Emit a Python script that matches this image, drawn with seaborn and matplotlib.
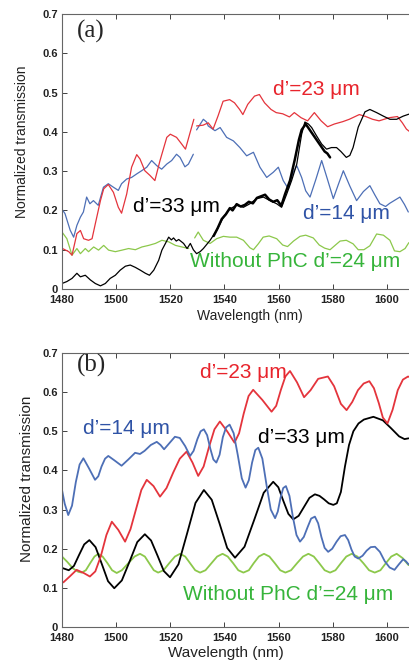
### TRANSMISSION SPECTRA - (a) measured, (b) simulated ###

import numpy as np
import matplotlib
matplotlib.use("Agg")
import matplotlib.pyplot as plt
import seaborn as sns

# ---------------- data ----------------

x_ticks = [1480, 1500, 1520, 1540, 1560, 1580, 1600]
x_tick_labels = ['1480', '1500', '1520', '1540', '1560', '1580', '1600']
y_ticks = [0, 0.1, 0.2, 0.3, 0.4, 0.5, 0.6, 0.7]
y_tick_labels = ['0', '0.1', '0.2', '0.3', '0.4', '0.5', '0.6', '0.7']

# (a) measured, d'=23 um (red), two pieces
a_red1_x = [1480.2, 1482.5, 1483.7, 1485.5, 1486.8, 1488.0, 1489.8, 1491.1, 1492.3, 1494.2,
            1495.4, 1497.1, 1499.0, 1500.8, 1502.0, 1503.9, 1505.7, 1507.6, 1508.8, 1510.6,
            1512.5, 1514.3, 1516.2, 1518.7, 1520.0, 1522.3, 1524.2, 1525.6, 1527.3, 1528.7]
a_red1_y = [0.103, 0.095, 0.086, 0.141, 0.149, 0.128, 0.124, 0.128, 0.166, 0.225,
            0.255, 0.266, 0.246, 0.208, 0.193, 0.242, 0.310, 0.342, 0.331, 0.301,
            0.289, 0.276, 0.327, 0.386, 0.394, 0.386, 0.369, 0.356, 0.398, 0.432]
a_red2_x = [1529.7, 1532.1, 1534.0, 1535.8, 1537.6, 1539.5, 1541.9, 1543.7, 1545.6, 1546.8,
            1548.6, 1551.1, 1552.9, 1554.8, 1557.2, 1559.1, 1561.5, 1564.0, 1565.8, 1568.3,
            1570.7, 1573.2, 1575.7, 1578.1, 1580.6, 1583.7, 1586.1, 1589.8, 1592.2, 1594.7,
            1597.1, 1600.8, 1603.9, 1605.7, 1607.2, 1608.5]
a_red2_y = [0.415, 0.417, 0.423, 0.407, 0.440, 0.478, 0.482, 0.474, 0.457, 0.444,
            0.470, 0.491, 0.495, 0.474, 0.457, 0.449, 0.446, 0.438, 0.449, 0.436,
            0.428, 0.449, 0.428, 0.413, 0.420, 0.426, 0.432, 0.444, 0.439, 0.432,
            0.428, 0.436, 0.439, 0.423, 0.407, 0.400]

# (a) measured, d'=14 um (blue), two pieces
a_blue1_x = [1479.9, 1481.1, 1483.0, 1484.3, 1485.5, 1486.8, 1487.9, 1489.1, 1490.3, 1491.6,
             1493.4, 1495.3, 1497.1, 1499.0, 1500.8, 1502.0, 1503.9, 1505.7, 1507.6, 1509.4,
             1511.3, 1513.1, 1515.0, 1516.8, 1518.7, 1520.5, 1522.3, 1523.6, 1525.4, 1526.7,
             1528.5]
a_blue1_y = [0.204, 0.192, 0.150, 0.132, 0.162, 0.183, 0.196, 0.234, 0.217, 0.225,
             0.213, 0.259, 0.268, 0.259, 0.251, 0.268, 0.280, 0.284, 0.293, 0.301,
             0.310, 0.327, 0.314, 0.305, 0.318, 0.327, 0.343, 0.335, 0.311, 0.318,
             0.343]
a_blue2_x = [1529.7, 1531.0, 1532.2, 1533.4, 1534.0, 1536.5, 1538.4, 1540.8, 1543.3, 1545.7,
             1548.2, 1550.7, 1553.1, 1555.6, 1558.0, 1559.9, 1561.7, 1563.6, 1565.4, 1566.7,
             1568.5, 1570.0, 1571.6, 1573.8, 1575.9, 1578.0, 1580.2, 1582.0, 1583.9, 1586.3,
             1588.8, 1591.3, 1593.7, 1595.5, 1597.4, 1599.5, 1601.0, 1604.8, 1606.5, 1607.9]
a_blue2_y = [0.405, 0.419, 0.432, 0.425, 0.415, 0.403, 0.411, 0.386, 0.377, 0.360,
             0.339, 0.348, 0.310, 0.284, 0.297, 0.310, 0.276, 0.255, 0.297, 0.314,
             0.284, 0.250, 0.234, 0.280, 0.327, 0.280, 0.230, 0.265, 0.301, 0.262,
             0.225, 0.248, 0.263, 0.240, 0.217, 0.210, 0.218, 0.234, 0.215, 0.196]

# (a) measured, without PhC (green), two pieces
a_green1_x = [1480.0, 1481.8, 1483.7, 1485.5, 1486.8, 1488.6, 1489.8, 1491.7, 1493.5, 1495.4,
              1497.2, 1499.7, 1502.2, 1504.6, 1507.1, 1509.5, 1512.0, 1514.5, 1516.9, 1519.4,
              1521.9, 1524.3, 1526.8]
a_green1_y = [0.145, 0.128, 0.086, 0.103, 0.090, 0.103, 0.095, 0.107, 0.099, 0.111,
              0.099, 0.095, 0.099, 0.103, 0.100, 0.107, 0.111, 0.116, 0.124, 0.120,
              0.111, 0.107, 0.103]
a_green2_x = [1529.0, 1530.3, 1532.2, 1534.7, 1537.1, 1539.6, 1542.0, 1544.5, 1547.0, 1549.4,
              1550.7, 1552.5, 1554.3, 1556.5, 1559.3, 1561.5, 1563.3, 1565.5, 1567.9, 1570.0,
              1572.8, 1575.0, 1577.0, 1579.0, 1581.0, 1582.7, 1585.0, 1587.5, 1589.4, 1591.5,
              1593.7, 1596.2, 1598.7, 1601.1, 1602.8, 1604.8, 1606.7, 1608.1]
a_green2_y = [0.130, 0.145, 0.124, 0.116, 0.128, 0.134, 0.132, 0.132, 0.124, 0.105,
              0.100, 0.115, 0.132, 0.135, 0.128, 0.112, 0.108, 0.122, 0.134, 0.137,
              0.130, 0.112, 0.104, 0.100, 0.112, 0.122, 0.124, 0.115, 0.100, 0.100,
              0.110, 0.140, 0.137, 0.124, 0.097, 0.095, 0.103, 0.118]

# (a) measured, d'=33 um (black): one thin trace + the thick, noisy overlapped scans
a_black_x = [1480.0, 1481.8, 1483.7, 1485.5, 1486.8, 1488.6, 1490.5, 1492.3, 1494.2, 1496.0,
             1497.8, 1499.7, 1501.5, 1503.4, 1505.2, 1507.1, 1508.9, 1510.8, 1512.3, 1513.9,
             1515.7, 1516.9, 1518.2, 1519.4, 1520.4, 1521.2, 1522.2, 1523.1, 1524.9, 1526.2,
             1527.4, 1528.5, 1529.7, 1531.0, 1532.2, 1534.7, 1537.1, 1539.6, 1542.0, 1544.5,
             1547.0, 1549.4, 1551.9, 1554.4, 1556.8, 1559.3, 1561.1, 1563.0, 1564.8, 1566.7,
             1568.5, 1569.7, 1571.0, 1572.2, 1574.0, 1575.9, 1577.7, 1579.5, 1581.4, 1583.0,
             1585.0, 1586.3, 1587.5, 1589.4, 1591.9, 1593.7, 1596.2, 1598.7, 1601.1, 1603.6,
             1606.0, 1608.1]
a_black_y = [0.014, 0.019, 0.027, 0.040, 0.031, 0.035, 0.023, 0.014, 0.008, 0.014,
             0.027, 0.035, 0.048, 0.058, 0.061, 0.055, 0.048, 0.040, 0.035, 0.048,
             0.073, 0.099, 0.116, 0.132, 0.125, 0.130, 0.122, 0.126, 0.116, 0.103,
             0.116, 0.100, 0.090, 0.095, 0.103, 0.124, 0.149, 0.183, 0.204, 0.213,
             0.208, 0.217, 0.230, 0.234, 0.225, 0.217, 0.208, 0.242, 0.276, 0.318,
             0.394, 0.425, 0.420, 0.411, 0.390, 0.369, 0.356, 0.360, 0.360, 0.350,
             0.335, 0.340, 0.360, 0.412, 0.451, 0.457, 0.449, 0.440, 0.432, 0.432,
             0.440, 0.445]
a_black_thick_x = [1536.0, 1537.5, 1539.0, 1540.5, 1542.0, 1543.0, 1544.5, 1546.0, 1547.5, 1549.0,
                   1550.5, 1552.0, 1553.5, 1555.0, 1556.5, 1558.0, 1559.5, 1561.0, 1562.4, 1564.2,
                   1566.0, 1567.5, 1568.5, 1570.0, 1571.5, 1572.5, 1574.0, 1575.5, 1577.0, 1578.0,
                   1579.0]
a_black_thick_y = [0.135, 0.155, 0.178, 0.190, 0.206, 0.200, 0.216, 0.210, 0.214, 0.222,
                   0.218, 0.232, 0.236, 0.240, 0.228, 0.222, 0.226, 0.212, 0.242, 0.276,
                   0.330, 0.380, 0.405, 0.420, 0.405, 0.395, 0.380, 0.365, 0.350, 0.345,
                   0.335]

# (b) simulated, d'=23 um (red)
b_red_x = [1480.5, 1483.0, 1485.4, 1488.0, 1490.3, 1492.3, 1494.3, 1496.4, 1498.4, 1500.8,
           1503.3, 1505.3, 1507.3, 1509.3, 1511.3, 1513.8, 1516.2, 1518.6, 1521.1, 1523.5,
           1526.0, 1528.2, 1530.3, 1532.3, 1534.3, 1536.3, 1538.3, 1541.0, 1543.7, 1545.4,
           1547.1, 1548.9, 1550.6, 1554.0, 1557.4, 1559.1, 1560.8, 1562.5, 1564.2, 1566.8,
           1569.4, 1571.8, 1574.6, 1578.2, 1580.5, 1583.0, 1585.1, 1587.2, 1589.3, 1591.4,
           1593.5, 1595.2, 1597.0, 1598.5, 1600.2, 1602.1, 1604.0, 1605.9, 1607.8, 1608.5]
b_red_y = [0.114, 0.130, 0.146, 0.138, 0.129, 0.142, 0.180, 0.235, 0.269, 0.248,
           0.218, 0.250, 0.300, 0.350, 0.376, 0.360, 0.333, 0.355, 0.395, 0.430,
           0.448, 0.420, 0.386, 0.410, 0.460, 0.505, 0.525, 0.500, 0.471, 0.495,
           0.545, 0.590, 0.606, 0.580, 0.550, 0.565, 0.605, 0.640, 0.654, 0.625,
           0.587, 0.605, 0.634, 0.640, 0.615, 0.570, 0.554, 0.575, 0.605, 0.622,
           0.628, 0.610, 0.572, 0.535, 0.520, 0.555, 0.605, 0.632, 0.640, 0.638]

# (b) simulated, d'=14 um (blue)
b_blue_x = [1480.0, 1481.0, 1482.3, 1483.7, 1485.1, 1486.5, 1487.9, 1490.0, 1492.2, 1493.4,
            1494.6, 1495.9, 1497.1, 1499.5, 1502.0, 1504.5, 1507.0, 1508.8, 1510.5, 1512.8,
            1515.0, 1516.4, 1517.7, 1519.7, 1521.7, 1523.5, 1525.5, 1527.3, 1528.6, 1530.0,
            1531.2, 1532.4, 1533.6, 1534.8, 1535.9, 1537.0, 1538.2, 1539.4, 1540.6, 1541.9,
            1543.4, 1544.9, 1546.4, 1547.8, 1549.0, 1550.2, 1551.4, 1552.5, 1554.0, 1555.6,
            1557.1, 1558.7, 1559.7, 1560.7, 1561.7, 1562.7, 1564.0, 1565.3, 1566.6, 1567.9,
            1569.3, 1570.7, 1572.0, 1573.4, 1574.6, 1575.8, 1577.0, 1578.3, 1579.8, 1581.4,
            1582.9, 1584.5, 1585.7, 1586.9, 1588.1, 1589.4, 1591.0, 1592.5, 1594.0, 1595.6,
            1597.4, 1599.2, 1601.0, 1602.8, 1604.4, 1606.0, 1607.0, 1608.0]
b_blue_y = [0.350, 0.315, 0.286, 0.310, 0.370, 0.415, 0.431, 0.405, 0.376, 0.385,
            0.410, 0.430, 0.437, 0.425, 0.412, 0.428, 0.445, 0.442, 0.450, 0.465,
            0.473, 0.465, 0.454, 0.470, 0.486, 0.483, 0.462, 0.437, 0.450, 0.480,
            0.500, 0.505, 0.490, 0.455, 0.428, 0.420, 0.440, 0.485, 0.510, 0.517,
            0.495, 0.440, 0.380, 0.356, 0.375, 0.420, 0.452, 0.458, 0.430, 0.360,
            0.300, 0.278, 0.295, 0.330, 0.355, 0.360, 0.335, 0.280, 0.235, 0.218,
            0.230, 0.255, 0.277, 0.282, 0.265, 0.230, 0.202, 0.192, 0.200, 0.218,
            0.232, 0.235, 0.222, 0.198, 0.180, 0.175, 0.182, 0.195, 0.204, 0.205,
            0.192, 0.168, 0.152, 0.146, 0.160, 0.173, 0.168, 0.160]

# (b) simulated, d'=33 um (black)
b_black_x = [1480.0, 1482.5, 1484.4, 1486.3, 1488.2, 1490.1, 1492.4, 1494.7, 1497.0, 1499.3,
             1502.1, 1505.0, 1507.8, 1510.6, 1512.9, 1515.3, 1517.6, 1519.9, 1523.0, 1526.2,
             1529.3, 1532.4, 1535.3, 1538.2, 1541.0, 1543.9, 1547.4, 1551.0, 1554.5, 1558.0,
             1559.9, 1561.7, 1563.6, 1565.4, 1567.4, 1569.4, 1571.4, 1573.4, 1575.1, 1576.8,
             1578.5, 1580.2, 1581.5, 1583.0, 1584.5, 1586.0, 1587.6, 1589.5, 1591.5, 1595.0,
             1598.5, 1601.5, 1604.5, 1606.5, 1608.0]
b_black_y = [0.151, 0.145, 0.156, 0.184, 0.211, 0.222, 0.204, 0.161, 0.117, 0.099,
             0.119, 0.168, 0.217, 0.237, 0.221, 0.182, 0.143, 0.127, 0.160, 0.239,
             0.317, 0.350, 0.325, 0.264, 0.202, 0.177, 0.205, 0.274, 0.343, 0.371,
             0.357, 0.323, 0.289, 0.275, 0.284, 0.307, 0.330, 0.339, 0.335, 0.326,
             0.316, 0.312, 0.316, 0.345, 0.410, 0.465, 0.500, 0.520, 0.530, 0.537,
             0.528, 0.508, 0.487, 0.480, 0.482]

# (b) simulated, without PhC (green)
b_green_x = [1480.0, 1482.0, 1484.0, 1486.0, 1487.3,
             1488.8, 1490.4, 1492.0, 1493.4, 1495.0, 1496.8, 1498.5, 1500.2,
             1502.1, 1504.5, 1506.8, 1508.8, 1510.6, 1512.2, 1513.9, 1515.5,
             1517.5, 1519.6, 1521.7, 1523.6, 1525.5, 1527.3, 1529.2, 1531.0,
             1533.0, 1535.2, 1537.3, 1539.3, 1541.2, 1543.2, 1545.1, 1547.0,
             1549.0, 1550.8, 1552.7, 1554.6, 1556.6, 1558.6, 1560.6, 1562.5,
             1564.6, 1566.8, 1569.0, 1571.0, 1573.0, 1575.0, 1577.0, 1579.0,
             1581.0, 1583.0, 1585.0, 1587.0, 1589.1, 1591.3, 1593.4, 1595.5,
             1597.6, 1599.6, 1601.6, 1603.6, 1605.8, 1608.0]
b_green_y = [0.180, 0.166, 0.150, 0.141, 0.139,
             0.145, 0.163, 0.180, 0.187, 0.180, 0.163, 0.145, 0.138,
             0.145, 0.163, 0.180, 0.187, 0.180, 0.163, 0.145, 0.139,
             0.145, 0.163, 0.180, 0.187, 0.180, 0.163, 0.145, 0.139,
             0.145, 0.163, 0.180, 0.187, 0.180, 0.163, 0.145, 0.139,
             0.145, 0.163, 0.180, 0.187, 0.180, 0.163, 0.145, 0.139,
             0.145, 0.163, 0.180, 0.187, 0.180, 0.163, 0.145, 0.139,
             0.145, 0.163, 0.180, 0.187, 0.180, 0.163, 0.145, 0.139,
             0.145, 0.163, 0.180, 0.187, 0.176, 0.158]

# ---------------- style ----------------

sns.set_theme(style="ticks")
plt.rcParams['font.family'] = ['Liberation Sans', 'DejaVu Sans']

red_line = '#e4343c'
blue_line = '#4d6fb6'
green_line = '#8cc84b'
red_txt = '#e8242c'
blue_txt = '#2f53a6'
green_txt = '#36b43a'

def draw(ax, xs, ys, color, lw):
    # plot points in the given order, no aggregation
    sns.lineplot(x=xs, y=ys, ax=ax, color=color, linewidth=lw, sort=False, estimator=None)

def style_axes(ax, label_size, xlab_pos, ylab_pos):
    ax.set_xlim(1480, 1610)
    ax.set_ylim(0, 0.7)
    ax.set_xticks(x_ticks)
    ax.set_xticklabels(x_tick_labels, fontweight='bold', fontsize=8)
    ax.set_yticks(y_ticks)
    ax.set_yticklabels(y_tick_labels, fontweight='bold', fontsize=8)
    ax.tick_params(direction='in', top=True, right=True, length=3.5, width=0.6,
                   colors='#222222')
    ax.tick_params(axis='x', pad=4)
    ax.tick_params(axis='y', pad=3)
    for s in ax.spines.values():
        s.set_color('#666666')
        s.set_linewidth(0.8)
    ax.set_xlabel('Wavelength (nm)', fontsize=label_size, color='#222222', va='center')
    ax.set_ylabel('Normalized transmission', fontsize=label_size, color='#222222', va='center')
    ax.xaxis.set_label_coords(*xlab_pos)
    ax.yaxis.set_label_coords(*ylab_pos)

fig = plt.figure(figsize=(4.09, 6.63), dpi=100)
ax_a = fig.add_axes([62 / 409, 1 - 289 / 663, 352 / 409, 275 / 663])
ax_b = fig.add_axes([62 / 409, 1 - 627 / 663, 352 / 409, 274 / 663])

# ---------------- (a) ----------------
draw(ax_a, a_green1_x, a_green1_y, green_line, 0.9)
draw(ax_a, a_green2_x, a_green2_y, green_line, 0.9)
draw(ax_a, a_blue1_x, a_blue1_y, blue_line, 0.9)
draw(ax_a, a_blue2_x, a_blue2_y, blue_line, 0.9)
draw(ax_a, a_red1_x, a_red1_y, red_line, 0.9)
draw(ax_a, a_red2_x, a_red2_y, red_line, 0.9)
draw(ax_a, a_black_x, a_black_y, 'black', 0.9)
draw(ax_a, a_black_thick_x, a_black_thick_y, 'black', 1.8)
style_axes(ax_a, 10, (0.534, -0.098), (-0.114, 0.535))

ax_a.text(1485.5, 0.656, '(a)', family='Liberation Serif', fontsize=18, va='center')
ax_a.text(1557.9, 0.508, 'd\u2019=23 \u03bcm', color=red_txt, fontsize=15, va='center')
ax_a.text(1506.2, 0.211, 'd\u2019=33 \u03bcm', color='black', fontsize=15, va='center')
ax_a.text(1569.0, 0.191, 'd\u2019=14 \u03bcm', color=blue_txt, fontsize=15, va='center')
ax_a.text(1527.3, 0.070, 'Without PhC d\u2019=24 \u03bcm', color=green_txt, fontsize=15, va='center')

# ---------------- (b) ----------------
draw(ax_b, b_green_x, b_green_y, green_line, 1.3)
draw(ax_b, b_black_x, b_black_y, 'black', 1.3)
draw(ax_b, b_red_x, b_red_y, red_line, 1.3)
draw(ax_b, b_blue_x, b_blue_y, blue_line, 1.3)
style_axes(ax_b, 11, (0.466, -0.095), (-0.099, 0.54))

ax_b.text(1485.5, 0.669, '(b)', family='Liberation Serif', fontsize=18, va='center')
ax_b.text(1531.0, 0.651, 'd\u2019=23 \u03bcm', color=red_txt, fontsize=15, va='center')
ax_b.text(1487.8, 0.508, 'd\u2019=14 \u03bcm', color=blue_txt, fontsize=15, va='center')
ax_b.text(1552.4, 0.485, 'd\u2019=33 \u03bcm', color='black', fontsize=15, va='center')
ax_b.text(1524.7, 0.082, 'Without PhC d\u2019=24 \u03bcm', color=green_txt, fontsize=15, va='center')

fig.savefig('out.png', dpi=100)
